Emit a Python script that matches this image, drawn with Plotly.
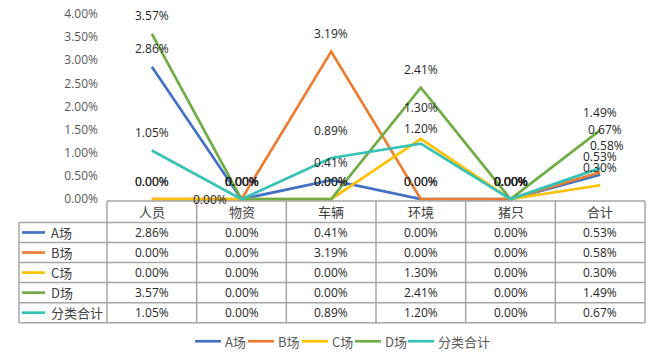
import plotly.graph_objects as go

# ---------------- data ----------------
categories = ["人员", "物资", "车辆", "环境", "猪只", "合计"]
series_names = ["A场", "B场", "C场", "D场", "分类合计"]
a_vals = [0.0286, 0.0, 0.0041, 0.0, 0.0, 0.0053]
b_vals = [0.0, 0.0, 0.0319, 0.0, 0.0, 0.0058]
c_vals = [0.0, 0.0, 0.0, 0.0130, 0.0, 0.0030]
d_vals = [0.0357, 0.0, 0.0, 0.0241, 0.0, 0.0149]
total_vals = [0.0105, 0.0, 0.0089, 0.0120, 0.0, 0.0067]
y_tick_vals = [0.0, 0.005, 0.01, 0.015, 0.02, 0.025, 0.03, 0.035, 0.04]

series_values = [a_vals, b_vals, c_vals, d_vals, total_vals]

# ---------------- style ----------------
colors = ["#4472C4", "#ED7D31", "#FFC000", "#70AD47", "#36C2B4"]
NUM_FONT = "Open Sans, Noto Sans CJK SC, sans-serif"
CJK_FONT = "Noto Sans CJK SC, Open Sans, sans-serif"
BORDER = "#A6A6A6"

W, H = 650, 356
L, R, T, B = 107, 5, 9, 155
PW, PH = W - L - R, H - T - B


def px2x(px):
    return (px - L) / PW


def px2y(py):
    return (H - B - py) / PH


# label offsets (dx, dy in px) for data labels; default above point
default_offset = (0, 18)
label_offsets = {
    (0, 1): (-32, 0),
    (4, 2): (0, 27),
    (2, 3): (0, 31),
    (4, 3): (0, 15),
    (4, 5): (5, 39),
    (1, 5): (7, 27),
}

fig = go.Figure()
for name, vals, col in zip(series_names, series_values, colors):
    fig.add_trace(go.Scatter(
        x=categories, y=vals, mode="lines", name=name,
        line=dict(color=col, width=2.7), showlegend=False,
        hoverinfo="skip",
    ))

annotations = []
shapes = []

# data labels
for si, vals in enumerate(series_values):
    for ci, v in enumerate(vals):
        dx, dy = label_offsets.get((si, ci), default_offset)
        annotations.append(dict(
            x=categories[ci], y=v, xref="x", yref="y",
            text=f"{v*100:.2f}%", showarrow=False,
            xanchor="center", yanchor="middle",
            xshift=dx, yshift=dy,
            font=dict(family=NUM_FONT, size=12, color="#262626"),
        ))

# ---------------- data table ----------------
top_px = 201
header_bottom = 223
row_h = 20.6
n_rows = len(series_names)
row_edges = [header_bottom + k * row_h for k in range(n_rows + 1)]
left_px = 19
ncat = len(categories)


def col_edge(i):
    return i / ncat


line_style = dict(color=BORDER, width=1.5)
# header top border
shapes.append(dict(type="line", xref="paper", yref="paper",
                   x0=0, x1=1, y0=px2y(top_px), y1=px2y(top_px), line=line_style))
# row borders
for ry in row_edges:
    shapes.append(dict(type="line", xref="paper", yref="paper",
                       x0=px2x(left_px), x1=1, y0=px2y(ry), y1=px2y(ry), line=line_style))
# vertical borders
shapes.append(dict(type="line", xref="paper", yref="paper",
                   x0=px2x(left_px), x1=px2x(left_px),
                   y0=px2y(header_bottom), y1=px2y(row_edges[-1]), line=line_style))
for i in range(ncat + 1):
    shapes.append(dict(type="line", xref="paper", yref="paper",
                       x0=col_edge(i), x1=col_edge(i),
                       y0=px2y(top_px), y1=px2y(row_edges[-1]), line=line_style))

# header text
for ci, cat in enumerate(categories):
    annotations.append(dict(
        x=(ci + 0.5) / ncat, y=px2y((top_px + header_bottom) / 2),
        xref="paper", yref="paper", text=cat, showarrow=False,
        xanchor="center", yanchor="middle",
        font=dict(family=CJK_FONT, size=13, color="#404040"),
    ))

# rows
for si, (name, vals, col) in enumerate(zip(series_names, series_values, colors)):
    cy = (row_edges[si] + row_edges[si + 1]) / 2
    shapes.append(dict(type="line", xref="paper", yref="paper",
                       x0=px2x(22), x1=px2x(45), y0=px2y(cy), y1=px2y(cy),
                       line=dict(color=col, width=2.7)))
    annotations.append(dict(
        x=px2x(49), y=px2y(cy), xref="paper", yref="paper", text=name,
        showarrow=False, xanchor="left", yanchor="middle",
        font=dict(family=CJK_FONT, size=13, color="#404040"),
    ))
    for ci, v in enumerate(vals):
        annotations.append(dict(
            x=(ci + 0.5) / ncat, y=px2y(cy), xref="paper", yref="paper",
            text=f"{v*100:.2f}%", showarrow=False,
            xanchor="center", yanchor="middle",
            font=dict(family=NUM_FONT, size=12, color="#262626"),
        ))

# ---------------- bottom legend ----------------
legend_y = 345
legend_starts = [195, 248, 302, 355, 408]
for name, col, sx in zip(series_names, colors, legend_starts):
    shapes.append(dict(type="line", xref="paper", yref="paper",
                       x0=px2x(sx), x1=px2x(sx + 26), y0=px2y(legend_y), y1=px2y(legend_y),
                       line=dict(color=col, width=2.7)))
    annotations.append(dict(
        x=px2x(sx + 28), y=px2y(legend_y), xref="paper", yref="paper", text=name,
        showarrow=False, xanchor="left", yanchor="middle",
        font=dict(family=CJK_FONT, size=13, color="#595959"),
    ))

fig.update_layout(
    width=W, height=H,
    margin=dict(l=L, r=R, t=T, b=B, pad=0),
    paper_bgcolor="white", plot_bgcolor="white",
    xaxis=dict(type="category", range=[-0.5, ncat - 0.5], showticklabels=False,
               showgrid=False, zeroline=False, showline=False, ticks=""),
    yaxis=dict(range=[-0.0004, 0.04], tickvals=y_tick_vals, tickformat=".2%",
               showgrid=False, zeroline=False, showline=False, ticks="",
               ticklabelstandoff=8,
               tickfont=dict(family=NUM_FONT, size=12, color="#595959")),
    shapes=shapes, annotations=annotations,
    showlegend=False,
)

fig.write_html("out.html", config={"displayModeBar": False},
               post_script="document.body.style.margin='0px';")
